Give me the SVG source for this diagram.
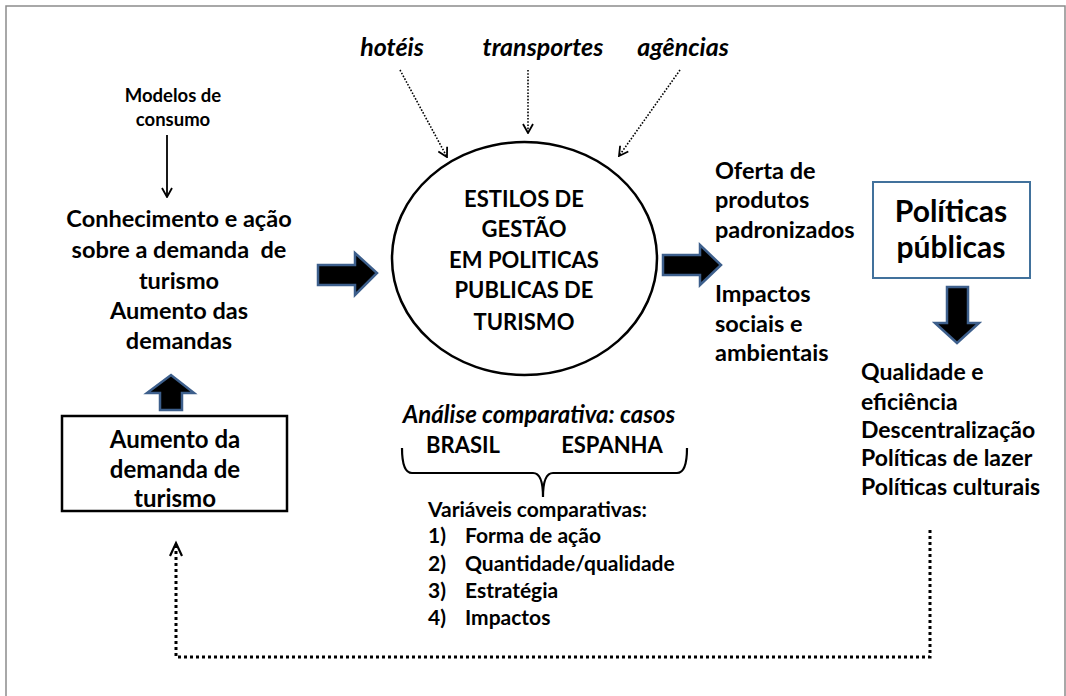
<svg xmlns="http://www.w3.org/2000/svg" width="1066" height="696" viewBox="0 0 1066 696">
<defs>
<style>
text{font-family:Lato,"Open Sans","Liberation Sans",sans-serif;font-weight:bold;fill:#000}
.it{font-style:italic}
.blk{fill:#000;stroke:#3D5F8C;stroke-width:2.5;stroke-linejoin:miter}
.dot{fill:none;stroke:#000;stroke-width:1.6;stroke-dasharray:1.6 1.6}
.fb{fill:none;stroke:#000;stroke-width:3;stroke-dasharray:3 3}
</style>
<marker id="ah" viewBox="0 0 12 12" refX="11" refY="6" markerWidth="12" markerHeight="12" markerUnits="userSpaceOnUse" orient="auto">
<path d="M2,1 L11,6 L2,11" fill="none" stroke="#000" stroke-width="1.8"/>
</marker>
</defs>
<rect x="0" y="0" width="1066" height="696" fill="#fff"/>
<path d="M6,696 V6 H1065 V696" fill="none" stroke="#8c8c8c" stroke-width="1.5"/>

<g id="connectors">
<line class="dot" x1="400" y1="70" x2="447" y2="157" marker-end="url(#ah)"/>
<line class="dot" x1="528" y1="70" x2="528" y2="133" marker-end="url(#ah)"/>
<line class="dot" x1="680" y1="70" x2="619" y2="156" marker-end="url(#ah)"/>
<line x1="167" y1="135" x2="167" y2="197" stroke="#000" stroke-width="1.8" marker-end="url(#ah)"/>
<polygon class="blk" points="318,265 355,265 355,253 377,273 355,295 355,285 318,285"/>
<polygon class="blk" points="663,255 700,255 700,245 721,265 700,285 700,275 663,275"/>
<polygon class="blk" points="160,410 160,393 147,393 171,375 194,393 182,393 182,410"/>
<polygon class="blk" points="947,287 968,287 968,323 979,323 957,343 935,323 947,323"/>
<path d="M402,448 Q402,473 412,473 L533,473 Q543,473 543,497 Q543,473 553,473 L677,473 Q687,473 687,448" fill="none" stroke="#000" stroke-width="2.2"/>
<path class="fb" d="M930,530 V657 H176 V546"/>
<path d="M170,556 L176,543 L182,556" fill="none" stroke="#000" stroke-width="2.2"/>
</g>

<g id="top-labels">
<text class="it" x="392" y="56" font-size="25" text-anchor="middle">hotéis</text>
<text class="it" x="543" y="56" font-size="25" text-anchor="middle">transportes</text>
<text class="it" x="683" y="56" font-size="25" text-anchor="middle">agências</text>
</g>

<g id="modelos">
<text x="173" y="102" font-size="18.5" text-anchor="middle">Modelos de</text>
<text x="173" y="126" font-size="18.5" text-anchor="middle">consumo</text>
</g>

<g id="conhecimento">
<text x="179" y="227" font-size="23.5" text-anchor="middle">Conhecimento e ação</text>
<text x="179" y="258" font-size="23.5" text-anchor="middle" xml:space="preserve">sobre a demanda  de</text>
<text x="179" y="289" font-size="23.5" text-anchor="middle">turismo</text>
<text x="179" y="319" font-size="23.5" text-anchor="middle">Aumento das</text>
<text x="179" y="349" font-size="23.5" text-anchor="middle">demandas</text>
</g>

<g id="aumento-box">
<rect x="62" y="416" width="225" height="95" fill="#fff" stroke="#000" stroke-width="2.5"/>
<text x="175" y="448" font-size="24" text-anchor="middle">Aumento da</text>
<text x="175" y="478" font-size="24" text-anchor="middle">demanda de</text>
<text x="175" y="507" font-size="24" text-anchor="middle">turismo</text>
</g>

<g id="estilos">
<ellipse cx="524.5" cy="258.5" rx="132.5" ry="116.5" fill="#fff" stroke="#000" stroke-width="2.5"/>
<text x="524" y="207" font-size="22" text-anchor="middle">ESTILOS DE</text>
<text x="524" y="237" font-size="22" text-anchor="middle">GESTÃO</text>
<text x="524" y="268" font-size="22" text-anchor="middle">EM POLITICAS</text>
<text x="524" y="298" font-size="22" text-anchor="middle">PUBLICAS DE</text>
<text x="524" y="330" font-size="22" text-anchor="middle">TURISMO</text>
</g>

<g id="oferta">
<text x="715" y="179" font-size="23.5">Oferta de</text>
<text x="715" y="208" font-size="23.5">produtos</text>
<text x="715" y="238" font-size="23.5">padronizados</text>
</g>

<g id="impactos">
<text x="715" y="302" font-size="23.5">Impactos</text>
<text x="715" y="332" font-size="23.5">sociais e</text>
<text x="715" y="361" font-size="23.5">ambientais</text>
</g>

<g id="politicas">
<rect x="873" y="182" width="157" height="96" fill="#fff" stroke="#41719C" stroke-width="2"/>
<text x="951" y="222" font-size="30" text-anchor="middle">Políticas</text>
<text x="951" y="258" font-size="30" text-anchor="middle">públicas</text>
</g>

<g id="resultados">
<text x="861" y="380" font-size="23">Qualidade e</text>
<text x="861" y="410" font-size="23">eficiência</text>
<text x="861" y="438" font-size="23">Descentralização</text>
<text x="861" y="466" font-size="23">Políticas de lazer</text>
<text x="861" y="495" font-size="23">Políticas culturais</text>
</g>

<g id="analise">
<text class="it" x="539" y="423" font-size="24" text-anchor="middle">Análise comparativa: casos</text>
<text x="463" y="453" font-size="22" text-anchor="middle">BRASIL</text>
<text x="612" y="453" font-size="22" text-anchor="middle">ESPANHA</text>
</g>

<g id="variaveis">
<text x="428" y="517" font-size="21">Variáveis comparativas:</text>
<text x="428" y="543" font-size="21">1)</text><text x="465" y="543" font-size="21">Forma de ação</text>
<text x="428" y="571" font-size="21">2)</text><text x="465" y="571" font-size="21">Quantidade/qualidade</text>
<text x="428" y="598" font-size="21">3)</text><text x="465" y="598" font-size="21">Estratégia</text>
<text x="428" y="625" font-size="21">4)</text><text x="465" y="625" font-size="21">Impactos</text>
</g>
</svg>
